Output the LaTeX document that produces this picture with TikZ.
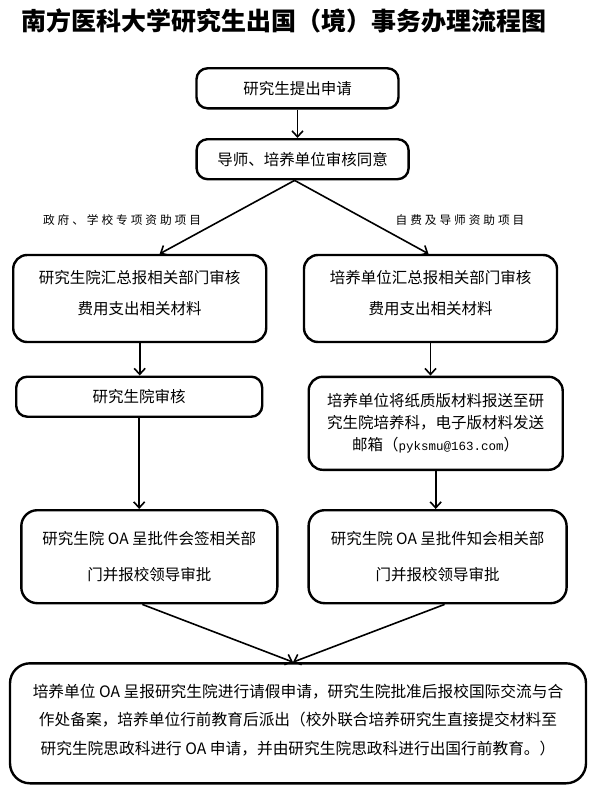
\documentclass[tikz,border=0pt]{standalone}
\usepackage{fontspec}
\setmainfont{Noto Sans CJK SC}
\setmonofont{Liberation Mono}
\newfontfamily\branchfont[LetterSpace=25]{Noto Sans CJK SC}
\usepackage{tikz}
\usetikzlibrary{arrows.meta, positioning}

\begin{document}
\begin{tikzpicture}[x=1pt, y=-1pt, >={Straight Barb[length=6pt,width=11pt]},
    box/.style={draw, line width=2.4pt, rounded corners=11pt, align=center, inner sep=0pt},
    flow/.style={->, line width=1.6pt}]
        \useasboundingbox (0,0) rectangle (593,792);

        \node[anchor=west, font=\fontsize{25}{28}\selectfont\bfseries] (title) at (18,21) {南方医科大学研究生出国（境）事务办理流程图};

        \node[box, minimum width=202pt, minimum height=40pt, font=\fontsize{15.5}{20}\selectfont] (a1) at (297.5,88.3) {研究生提出申请};
        \node[box, minimum width=212pt, minimum height=40pt, font=\fontsize{15.5}{20}\selectfont] (a2) at (302.6,159.2) {导师、培养单位审核同意};

        \node[font=\fontsize{11.7}{14}\selectfont\branchfont] (lab1) at (122,220) {政府、学校专项资助项目};
        \node[font=\fontsize{11.7}{14}\selectfont\branchfont] (lab2) at (460,220) {自费及导师资助项目};

        \node[box, rounded corners=14pt, minimum width=253pt, minimum height=87pt, font=\fontsize{15.5}{31}\selectfont] (b1) at (139.7,298.5) {研究生院汇总报相关部门审核\\费用支出相关材料\rule[-12pt]{0pt}{12pt}};
        \node[box, rounded corners=14pt, minimum width=253pt, minimum height=87pt, font=\fontsize{15.5}{31}\selectfont] (b2) at (430.5,298.5) {培养单位汇总报相关部门审核\\费用支出相关材料\rule[-12pt]{0pt}{12pt}};

        \node[box, minimum width=246pt, minimum height=40pt, font=\fontsize{15.5}{20}\selectfont] (c1) at (139.2,396.7) {研究生院审核};
        \node[box, rounded corners=14pt, minimum width=254pt, minimum height=93pt, font=\fontsize{15.5}{21.7}\selectfont] (c2) at (435.7,423.3) {培养单位将纸质版材料报送至研\\究生院培养科，电子版材料发送\\邮箱（{\ttfamily\fontsize{12.5}{21.7}\selectfont pyksmu@163.com}）};

        \node[box, rounded corners=16pt, minimum width=256pt, minimum height=93pt, font=\fontsize{15.5}{36.7}\selectfont] (d1) at (149.3,556.7) {研究生院 OA 呈批件会签相关部\\门并报校领导审批};
        \node[box, rounded corners=16pt, minimum width=258pt, minimum height=93pt, font=\fontsize{15.5}{36.7}\selectfont] (d2) at (437.6,556.7) {研究生院 OA 呈批件知会相关部\\门并报校领导审批};

        \node[box, rounded corners=20pt, minimum width=576pt, minimum height=120pt, font=\fontsize{15.7}{28.5}\selectfont] (e) at (298,723.3) {培养单位 OA 呈报研究生院进行请假申请，研究生院批准后报校国际交流与合\\作处备案，培养单位行前教育后派出（校外联合培养研究生直接提交材料至\\研究生院思政科进行 OA 申请，并由研究生院思政科进行出国行前教育。）\rule[-8pt]{0pt}{8pt}};

        \draw[flow] (a1.south) -- (a1.south |- a2.north);
        \draw[flow] ([xshift=-8pt]a2.south) -- ([xshift=20pt]b1.north);
        \draw[flow] ([xshift=-8pt]a2.south) -- ([xshift=-2pt]b2.north);
        \draw[flow] (b1.south) -- (b1.south |- c1.north);
        \draw[flow] (b2.south) -- (b2.south |- c2.north);
        \draw[flow] (c1.south) -- (c1.south |- d1.north);
        \draw[flow] (c2.south) -- (c2.south |- d2.north);
        \draw[flow] ([xshift=-7pt]d1.south) -- ([xshift=-5pt]e.north);
        \draw[flow] ([xshift=7pt]d2.south) -- ([xshift=-5pt]e.north);

    \end{tikzpicture}
\end{document}
